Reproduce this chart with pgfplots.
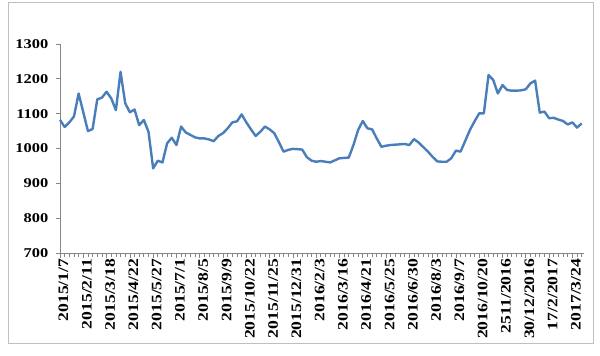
\documentclass[border=0pt]{standalone}
\usepackage{pgfplots}
\pgfplotsset{compat=1.18}
\usepackage{fontspec}
\setmainfont{Liberation Serif}
\newfontface\labfont{Liberation Serif Bold}[FakeStretch=1.22]
\definecolor{lineblue}{HTML}{4A7EBB}
\definecolor{axgray}{HTML}{868686}
\definecolor{framegray}{HTML}{BFBFBF}
\begin{document}
\begin{tikzpicture}[x=1bp,y=1bp]
\useasboundingbox (0,0) rectangle (600,355);
\draw[draw=framegray, line width=1bp] (8,12) rectangle (593,352);
\begin{axis}[
  at={(60bp,102bp)}, anchor=south west,
  scale only axis, width=524bp, height=209bp,
  xmin=0, xmax=112.5, ymin=700, ymax=1300,
  axis lines=left,
  axis line style={-, draw=axgray, line width=0.8bp},
  tick style={draw=axgray, line width=0.7bp},
  tick align=outside,
  major tick length=4.5bp, minor tick length=4bp,
  ytick={700,800,900,1000,1100,1200,1300},
  yticklabels={700,800,900,1000,1100,1200,1300},
  yticklabel style={font=\labfont\fontsize{13.5}{13.5}\selectfont, inner sep=1bp, xshift=-6bp},
  xtick={0,5,...,110},
  minor xtick={0,1,...,112},
  xticklabels={2015/1/7,2015/2/11,2015/3/18,2015/4/22,2015/5/27,2015/7/1,2015/8/5,2015/9/9,2015/10/22,2015/11/25,2015/12/31,2016/2/3,2016/3/16,2016/4/21,2016/5/25,2016/6/30,2016/8/3,2016/9/7,2016/10/20,2511/2016,30/12/2016,17/2/2017,2017/3/24},
  xticklabel style={font=\labfont\fontsize{14.5}{14.5}\selectfont, rotate=90, anchor=east, inner sep=1bp, yshift=-3.5bp},
  clip=false,
]
\addplot[lineblue, line width=2.4bp, line join=round] table[x=i, y=v] {
i v
0 1082
1 1062
2 1075
3 1092
4 1158
5 1104
6 1050
7 1056
8 1141
9 1146
10 1163
11 1144
12 1110
13 1220
14 1130
15 1104
16 1112
17 1067
18 1082
19 1048
20 943
21 965
22 960
23 1015
24 1031
25 1010
26 1063
27 1046
28 1039
29 1032
30 1029
31 1029
32 1026
33 1021
34 1036
35 1044
36 1058
37 1075
38 1078
39 1098
40 1075
41 1055
42 1036
43 1048
44 1063
45 1055
46 1044
47 1018
48 991
49 996
50 999
51 998
52 997
53 975
54 965
55 962
56 964
57 962
58 960
59 966
60 972
61 973
62 974
63 1010
64 1053
65 1079
66 1058
67 1055
68 1029
69 1005
70 1008
71 1010
72 1011
73 1012
74 1013
75 1010
76 1027
77 1017
78 1004
79 991
80 976
81 963
82 962
83 962
84 972
85 994
86 991
87 1022
88 1053
89 1078
90 1101
91 1101
92 1211
93 1197
94 1158
95 1182
96 1168
97 1166
98 1166
99 1167
100 1170
101 1187
102 1195
103 1103
104 1106
105 1087
106 1088
107 1083
108 1079
109 1069
110 1075
111 1060
112 1072
};
\end{axis}
\end{tikzpicture}
\end{document}
